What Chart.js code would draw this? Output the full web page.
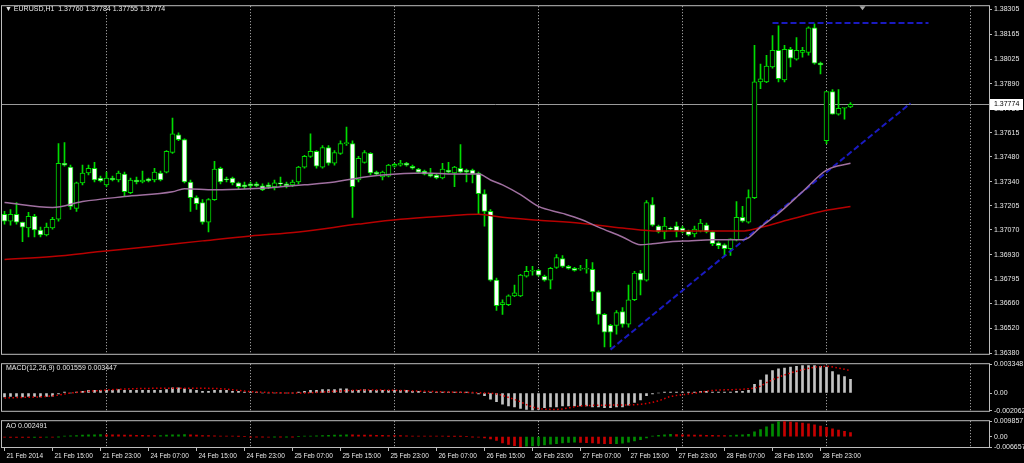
<!DOCTYPE html>
<html>
<head>
<meta charset="utf-8">
<script src="https://cdn.jsdelivr.net/npm/chart.js@4.4.1/dist/chart.umd.min.js"></script>
<style>
  body { margin: 0; background: #000; width: 1024px; height: 463px; overflow: hidden; position: relative; font-family: "Liberation Sans", Arial, sans-serif; }
  .painel { position: absolute; left: 0; width: 1024px; }
  .rotulo { position: absolute; color: #e8e8e8; font-size: 7px; line-height: 9px; white-space: pre; }
</style>
</head>
<body>
<div class="painel" style="top:0;height:360px"><canvas id="grafico-preco"></canvas></div>
<div class="painel" style="top:358px;height:59px"><canvas id="grafico-macd"></canvas></div>
<div class="painel" style="top:415px;height:48px"><canvas id="grafico-ao"></canvas></div>
<div class="rotulo" style="left:5px;top:4px">▼ EURUSD,H1  1.37760 1.37784 1.37755 1.37774</div>
<div class="rotulo" style="left:6px;top:363px">MACD(12,26,9) 0.001559 0.003447</div>
<div class="rotulo" style="left:6px;top:421px">AO 0.002491</div>
<script>
// EURUSD H1 - candles (um por hora, indice 0 = 21 Feb 07:00)
const abertura = [
  1.37158,1.37119,1.37158,1.37114,1.37081,1.37147,1.37070,1.37042,1.37081,1.37130,
  1.37444,1.37422,1.37191,1.37334,1.37389,1.37416,1.37361,1.37323,1.37361,1.37350,
  1.37383,1.37279,1.37350,1.37339,1.37356,1.37350,1.37389,1.37394,1.37504,1.37603,
  1.37576,1.37339,1.37251,1.37224,1.37114,1.37240,1.37416,1.37356,1.37361,1.37334,
  1.37323,1.37328,1.37328,1.37317,1.37323,1.37312,1.37334,1.37328,1.37323,1.37339,
  1.37422,1.37482,1.37510,1.37422,1.37532,1.37444,1.37499,1.37554,1.37554,1.37350,
  1.37449,1.37499,1.37394,1.37367,1.37372,1.37427,1.37433,1.37444,1.37427,1.37411,
  1.37400,1.37383,1.37378,1.37361,1.37405,1.37389,1.37416,1.37405,1.37405,1.37389,
  1.37273,1.37174,1.36789,1.36652,1.36652,1.36701,1.36701,1.36811,1.36839,1.36844,
  1.36811,1.36789,1.36861,1.36910,1.36866,1.36855,1.36850,1.36850,1.36850,1.36723,
  1.36597,1.36536,1.36536,1.36613,1.36542,1.36679,1.36828,1.36789,1.37213,1.37092,
  1.37059,1.37081,1.37092,1.37081,1.37064,1.37048,1.37064,1.37097,1.37059,1.36998,
  1.36987,1.36965,1.37015,1.37141,1.37114,1.37251,1.37900,1.37900,1.37983,1.38076,
  1.37911,1.38082,1.38027,1.38065,1.38065,1.38203,1.38005,1.37570,1.37845,1.37719,
  1.37752,1.37760
];
const maxima = [
  1.37174,1.37185,1.37224,1.37114,1.37169,1.37158,1.37086,1.37108,1.37141,1.37554,
  1.37559,1.37433,1.37339,1.37433,1.37433,1.37449,1.37372,1.37394,1.37372,1.37400,
  1.37394,1.37361,1.37367,1.37400,1.37361,1.37416,1.37400,1.37515,1.37697,1.37614,
  1.37581,1.37350,1.37262,1.37240,1.37246,1.37455,1.37422,1.37367,1.37367,1.37339,
  1.37339,1.37339,1.37339,1.37328,1.37334,1.37350,1.37367,1.37339,1.37350,1.37427,
  1.37488,1.37609,1.37515,1.37543,1.37543,1.37515,1.37570,1.37647,1.37570,1.37482,
  1.37515,1.37504,1.37400,1.37400,1.37438,1.37444,1.37460,1.37449,1.37433,1.37416,
  1.37405,1.37416,1.37383,1.37444,1.37449,1.37427,1.37548,1.37411,1.37411,1.37394,
  1.37295,1.37185,1.36800,1.36679,1.36707,1.36762,1.36822,1.36866,1.36866,1.36850,
  1.36817,1.36861,1.36932,1.36927,1.36872,1.36861,1.36872,1.36905,1.36888,1.36729,
  1.36602,1.36542,1.36619,1.36635,1.36762,1.36839,1.36844,1.37235,1.37251,1.37097,
  1.37141,1.37086,1.37114,1.37092,1.37070,1.37092,1.37130,1.37108,1.37064,1.37004,
  1.36993,1.37020,1.37229,1.37202,1.37295,1.38104,1.37999,1.38049,1.38159,1.38214,
  1.38104,1.38093,1.38148,1.38093,1.38208,1.38225,1.38010,1.37845,1.37856,1.37856,
  1.37757,1.37784
];
const minima = [
  1.37103,1.37097,1.37103,1.37004,1.37031,1.37031,1.37031,1.37037,1.37075,1.37119,
  1.37427,1.37185,1.37174,1.37323,1.37378,1.37339,1.37339,1.37312,1.37345,1.37339,
  1.37262,1.37273,1.37328,1.37334,1.37339,1.37339,1.37345,1.37389,1.37499,1.37570,
  1.37334,1.37174,1.37185,1.37103,1.37059,1.37235,1.37328,1.37339,1.37323,1.37301,
  1.37301,1.37306,1.37312,1.37290,1.37301,1.37295,1.37317,1.37306,1.37312,1.37328,
  1.37416,1.37477,1.37416,1.37416,1.37433,1.37433,1.37493,1.37543,1.37141,1.37339,
  1.37444,1.37378,1.37378,1.37350,1.37367,1.37422,1.37427,1.37427,1.37411,1.37389,
  1.37378,1.37367,1.37356,1.37356,1.37389,1.37312,1.37389,1.37339,1.37334,1.37158,
  1.37092,1.36784,1.36619,1.36597,1.36646,1.36696,1.36696,1.36806,1.36817,1.36811,
  1.36784,1.36740,1.36855,1.36861,1.36850,1.36839,1.36844,1.36828,1.36674,1.36542,
  1.36415,1.36415,1.36487,1.36525,1.36525,1.36674,1.36707,1.36784,1.37092,1.37053,
  1.37020,1.37070,1.37031,1.37053,1.37037,1.37031,1.37059,1.37053,1.36982,1.36965,
  1.36927,1.36927,1.37009,1.37114,1.37108,1.37246,1.37862,1.37895,1.37977,1.37900,
  1.37900,1.37983,1.38021,1.38038,1.38049,1.37999,1.37944,1.37554,1.37719,1.37713,
  1.37691,1.37755
];
const fechamento = [
  1.37119,1.37158,1.37114,1.37086,1.37147,1.37070,1.37042,1.37086,1.37130,1.37444,
  1.37433,1.37202,1.37334,1.37389,1.37416,1.37350,1.37345,1.37361,1.37350,1.37389,
  1.37284,1.37350,1.37339,1.37350,1.37345,1.37394,1.37350,1.37510,1.37609,1.37576,
  1.37339,1.37251,1.37218,1.37114,1.37240,1.37411,1.37339,1.37350,1.37334,1.37312,
  1.37312,1.37317,1.37317,1.37295,1.37312,1.37334,1.37328,1.37317,1.37339,1.37422,
  1.37482,1.37510,1.37427,1.37532,1.37444,1.37504,1.37554,1.37559,1.37312,1.37471,
  1.37504,1.37389,1.37383,1.37394,1.37433,1.37438,1.37444,1.37433,1.37416,1.37394,
  1.37383,1.37372,1.37361,1.37411,1.37394,1.37422,1.37394,1.37394,1.37383,1.37273,
  1.37174,1.36789,1.36646,1.36663,1.36701,1.36718,1.36817,1.36839,1.36844,1.36817,
  1.36789,1.36855,1.36916,1.36866,1.36855,1.36844,1.36855,1.36855,1.36723,1.36597,
  1.36498,1.36498,1.36608,1.36542,1.36679,1.36828,1.36789,1.37224,1.37097,1.37059,
  1.37092,1.37075,1.37064,1.37059,1.37042,1.37075,1.37108,1.37059,1.36993,1.36982,
  1.36965,1.37020,1.37141,1.37119,1.37251,1.37900,1.37917,1.37988,1.38076,1.37917,
  1.38082,1.38032,1.38076,1.38076,1.38203,1.38005,1.37994,1.37845,1.37719,1.37752,
  1.37757,1.37774
];

const mmRapidaIdx = [0,8,13,20,28,30,35,41,46,50,55,58,63,70,75,79,81,83,86,89,93,96,99,103,106,108,111,114,118,123,124,126,129,133,137,141];
const mmRapida = [1.37224,1.37196,1.37229,1.37257,1.37284,1.37301,1.37295,1.37301,1.37312,1.37323,1.37339,1.37356,1.37378,1.37389,1.37383,1.37383,1.37350,1.37323,1.37268,1.37202,1.37163,1.37130,1.37086,1.37031,1.36987,1.36993,1.37004,1.37009,1.37015,1.37015,1.37026,1.37086,1.37163,1.37284,1.37405,1.37444];
const mmLentaIdx = [0,8,16,24,33,41,49,59,66,73,79,83,89,96,103,109,116,123,125,131,137,141];
const mmLenta = [1.36905,1.36921,1.36949,1.36976,1.37009,1.37037,1.37059,1.37103,1.37130,1.37147,1.37158,1.37141,1.37125,1.37108,1.37081,1.37064,1.37064,1.37064,1.37075,1.37130,1.37180,1.37202];

// objetos desenhados
const tendenciaIdx = [101, 151];
const tendenciaPreco = [1.36400, 1.37780];
const resistenciaIdx = [128, 154];
const resistenciaPreco = [1.38230, 1.38230];
const precoAtual = 1.37774;
const marcaDeslocamento = 143;

// MACD(12,26,9)
const macd = [
  -0.00045,-0.0004,-0.0004,-0.00045,-0.0004,-0.0004,-0.00045,-0.0004,-0.00035,-0.0001,
  0.0001,0.0,0.0001,0.0002,0.0003,0.0003,0.0003,0.0003,0.0003,0.0004,
  0.0003,0.0003,0.0003,0.0003,0.0003,0.0003,0.0003,0.0004,0.0006,0.0006,
  0.0005,0.0004,0.0003,0.0002,0.0002,0.0003,0.0003,0.0003,0.0002,0.0002,
  0.0001,0.0001,0.0001,0.0,0.0,0.0,0.0,0.0,0.0,0.0001,
  0.0002,0.0003,0.0003,0.0004,0.0004,0.0004,0.0005,0.0005,0.0003,0.0003,
  0.0004,0.0003,0.0003,0.0003,0.0003,0.0003,0.0003,0.0003,0.0002,0.0002,
  0.0001,0.0001,0.0001,0.0001,0.0001,0.0001,0.0001,0.0001,0.0,-0.0001,
  -0.0003,-0.0007,-0.0010,-0.0013,-0.0015,-0.0016,-0.0018,-0.0019,-0.0020,-0.0019,
  -0.0017,-0.0016,-0.0016,-0.0015,-0.0015,-0.0015,-0.0015,-0.0015,-0.0016,-0.0016,
  -0.0017,-0.0017,-0.0016,-0.0016,-0.0014,-0.0011,-0.0008,-0.0003,-0.0001,0.0,
  0.0001,0.0001,0.0001,0.0001,0.0001,0.0001,0.0002,0.0002,0.0001,0.0001,
  0.0001,0.0001,0.0002,0.0002,0.0003,0.0010,0.0015,0.0021,0.0026,0.0028,
  0.0029,0.0030,0.0031,0.0032,0.0032,0.0032,0.0031,0.0030,0.0025,0.0021,
  0.0019,0.0016
];
const sinalIdx = [0,8,11,16,21,30,36,41,49,55,60,66,70,75,80,82,85,89,92,96,101,106,109,111,113,116,118,124,126,127,130,133,135,137,139,141];
const sinal = [-0.00057,-0.00033,0.0,0.0003,0.00049,0.00056,0.0005,0.00017,0.0,0.0002,0.00035,0.0003,0.0002,0.0001,0.0,-0.0001,-0.00075,-0.0018,-0.0019,-0.0015,-0.0014,-0.0013,-0.0009,-0.0004,-0.0002,0.0001,0.0003,0.0005,0.0008,0.0012,0.0021,0.0027,0.0030,0.0031,0.0029,0.0026];

// Awesome Oscillator
const ao = [
  -0.0004,-0.0005,-0.0005,-0.0006,-0.0006,-0.0005,-0.0005,-0.0004,-0.0004,-0.0002,
  0.0002,0.0005,0.0007,0.0009,0.0011,0.0012,0.0013,0.0012,0.0011,0.0011,
  0.0010,0.0009,0.0008,0.0008,0.0007,0.0006,0.0007,0.0009,0.0011,0.0012,
  0.0013,0.0011,0.0009,0.0007,0.0006,0.0005,0.0004,0.0003,0.0002,0.0001,
  0.0000,-0.0001,-0.0002,-0.0002,-0.0003,-0.0002,-0.0002,-0.0001,-0.0001,0.0000,
  0.0002,0.0004,0.0005,0.0007,0.0008,0.0009,0.0010,0.0011,0.0011,0.0010,
  0.0010,0.0009,0.0008,0.0008,0.0007,0.0006,0.0006,0.0005,0.0004,0.0004,
  0.0003,0.0003,0.0002,0.0002,0.0001,0.0001,0.0001,0.0000,-0.0001,-0.0003,
  -0.0008,-0.0015,-0.0025,-0.0040,-0.0050,-0.0058,-0.0064,-0.0062,-0.0060,-0.0057,
  -0.0053,-0.0049,-0.0045,-0.0041,-0.0038,-0.0036,-0.0037,-0.0039,-0.0041,-0.0043,
  -0.0045,-0.0046,-0.0045,-0.0042,-0.0036,-0.0028,-0.0019,-0.0008,0.0002,0.0008,
  0.0012,0.0014,0.0013,0.0012,0.0011,0.0010,0.0009,0.0008,0.0008,0.0007,
  0.0006,0.0007,0.0010,0.0012,0.0015,0.0030,0.0045,0.0062,0.0080,0.0098,
  0.0097,0.0094,0.0090,0.0086,0.0081,0.0075,0.0068,0.0060,0.0050,0.0041,
  0.0033,0.0025
];

// eixos
const ticksPreco = [1.38305,1.38165,1.38025,1.37890,1.37750,1.37615,1.37480,1.37340,1.37205,1.37070,1.36930,1.36795,1.36660,1.36520,1.36380];
const ticksMacd = [-0.002062, 0, 0.003348];
const ticksAo = [-0.006657, 0, 0.009857];
const posRotulos = [0,8,16,24,32,40,48,56,64,72,80,88,96,104,112,120,128,136];
const rotulosX = ['21 Feb 2014','21 Feb 15:00','21 Feb 23:00','24 Feb 07:00','24 Feb 15:00','24 Feb 23:00','25 Feb 07:00','25 Feb 15:00','25 Feb 23:00','26 Feb 07:00','26 Feb 15:00','26 Feb 23:00','27 Feb 07:00','27 Feb 15:00','27 Feb 23:00','28 Feb 07:00','28 Feb 15:00','28 Feb 23:00'];
const separadoresDia = [17, 41, 65, 89, 113, 137, 161];

const xMin = -0.416667, xMax = 164.083333;
const corTexto = '#e8e8e8';
const corMoldura = '#bdbdbd';
const verde = '#00dd00';

Chart.defaults.font.family = '"Liberation Sans", Arial, sans-serif';
Chart.defaults.font.size = 7;
Chart.defaults.animation = false;

const molduraPlugin = {
  id: 'moldura',
  beforeDatasetsDraw(chart) {
    const { ctx, chartArea: a, scales: { x } } = chart;
    ctx.save();
    ctx.strokeStyle = corMoldura;
    ctx.lineWidth = 1;
    ctx.setLineDash([1, 2]);
    separadoresDia.forEach(v => {
      const px = Math.floor(x.getPixelForValue(v)) + 0.5;
      if (px < a.right) {
        ctx.beginPath(); ctx.moveTo(px, a.top); ctx.lineTo(px, a.bottom); ctx.stroke();
      }
    });
    ctx.setLineDash([]);
    ctx.strokeRect(a.left - 0.5, a.top - 0.5, a.right - a.left + 1, a.bottom - a.top + 1);
    ctx.restore();
  }
};

const precoPlugin = {
  id: 'precoAtual',
  beforeDatasetsDraw(chart) {
    const { ctx, chartArea: a, scales: { y } } = chart;
    const py = Math.round(y.getPixelForValue(precoAtual)) + 0.5;
    ctx.save();
    ctx.strokeStyle = '#9a9a9a';
    ctx.lineWidth = 1;
    ctx.beginPath(); ctx.moveTo(a.left, py); ctx.lineTo(a.right, py); ctx.stroke();
    ctx.restore();
  },
  afterDraw(chart) {
    const { ctx, chartArea: a, scales: { x, y } } = chart;
    const py = Math.round(y.getPixelForValue(precoAtual));
    ctx.save();
    ctx.fillStyle = '#ffffff';
    ctx.fillRect(a.right + 1, py - 5, 33, 11);
    ctx.fillStyle = '#000';
    ctx.font = '7px "Liberation Sans", Arial, sans-serif';
    ctx.textBaseline = 'middle';
    ctx.fillText(precoAtual.toFixed(5), a.right + 5, py + 0.5);
    // marca de deslocamento do grafico
    const sx = x.getPixelForValue(marcaDeslocamento);
    ctx.fillStyle = '#a8a8a8';
    ctx.beginPath();
    ctx.moveTo(sx - 3, a.top); ctx.lineTo(sx + 3, a.top); ctx.lineTo(sx, a.top + 4);
    ctx.fill();
    ctx.restore();
  }
};

function eixoY(ticks, fmt) {
  return {
    position: 'right',
    afterBuildTicks: s => { s.ticks = ticks.map(v => ({ value: v })); },
    afterFit: s => { s.width = 35; },
    ticks: { color: corTexto, padding: 2, autoSkip: false, callback: fmt },
    grid: { drawOnChartArea: false, color: corMoldura, tickLength: 3 },
    border: { color: corMoldura }
  };
}

function eixoXOculto() {
  return { type: 'linear', min: xMin, max: xMax, offset: false, display: false };
}

const opcoesBase = {
  responsive: true,
  maintainAspectRatio: false,
  plugins: { legend: { display: false }, tooltip: { enabled: false } }
};

// GRÁFICO DE PREÇO (candles)
new Chart(document.getElementById('grafico-preco'), {
  type: 'bar',
  data: {
    datasets: [
      {
        type: 'line', label: 'MA curta',
        data: mmRapidaIdx.map((v, k) => ({ x: v, y: mmRapida[k] })),
        borderColor: '#a070a0', borderWidth: 1.5, pointRadius: 0,
        cubicInterpolationMode: 'monotone', order: 0
      },
      {
        type: 'line', label: 'MA longa',
        data: mmLentaIdx.map((v, k) => ({ x: v, y: mmLenta[k] })),
        borderColor: '#b80000', borderWidth: 1.5, pointRadius: 0,
        cubicInterpolationMode: 'monotone', order: 0
      },
      {
        type: 'line', label: 'Tendência',
        data: tendenciaIdx.map((v, k) => ({ x: v, y: tendenciaPreco[k] })),
        borderColor: '#1a1ac0', borderWidth: 2, borderDash: [6, 3], pointRadius: 0, order: 0
      },
      {
        type: 'line', label: 'Resistência',
        data: resistenciaIdx.map((v, k) => ({ x: v, y: resistenciaPreco[k] })),
        borderColor: '#1a1ac0', borderWidth: 2, borderDash: [6, 3], pointRadius: 0, order: 0
      },
      {
        label: 'Sombras',
        data: minima.map((v, i) => ({ x: i, y: [v, maxima[i]] })),
        backgroundColor: verde, barThickness: 1, grouped: false, order: 3
      },
      {
        label: 'Corpos',
        data: abertura.map((v, i) => ({ x: i, y: [v, fechamento[i]] })),
        backgroundColor: fechamento.map((c, i) => c > abertura[i] ? '#000000' : '#ffffff'),
        borderColor: verde, borderWidth: 1, borderSkipped: false,
        barThickness: 5, grouped: false, order: 2
      }
    ]
  },
  options: {
    ...opcoesBase,
    layout: { padding: { top: 3, bottom: 3, left: 2, right: 0 } },
    scales: {
      x: eixoXOculto(),
      y: { ...eixoY(ticksPreco, v => v.toFixed(5)), min: 1.363765, max: 1.383235 }
    }
  },
  plugins: [molduraPlugin, precoPlugin]
});

// GRÁFICO MACD
new Chart(document.getElementById('grafico-macd'), {
  type: 'bar',
  data: {
    datasets: [
      {
        type: 'line', label: 'Sinal',
        data: sinalIdx.map((v, k) => ({ x: v, y: sinal[k] })),
        borderColor: '#e00000', borderWidth: 1.5, borderDash: [1.5, 2.5], pointRadius: 0,
        cubicInterpolationMode: 'monotone', order: 0
      },
      {
        label: 'MACD',
        data: macd.map((v, i) => ({ x: i, y: v })),
        backgroundColor: '#c4c4c4', barThickness: 2, grouped: false, order: 1
      }
    ]
  },
  options: {
    ...opcoesBase,
    layout: { padding: { top: 5, bottom: 3, left: 2, right: 0 } },
    scales: {
      x: eixoXOculto(),
      y: { ...eixoY(ticksMacd, v => v === 0 ? '0.00' : v.toFixed(6)), min: -0.002062, max: 0.003348 }
    }
  },
  plugins: [molduraPlugin]
});

// GRÁFICO AO
new Chart(document.getElementById('grafico-ao'), {
  type: 'bar',
  data: {
    datasets: [{
      label: 'AO',
      data: ao.map((v, i) => ({ x: i, y: v })),
      backgroundColor: ao.map((v, i) => i > 0 && v > ao[i - 1] ? '#008c00' : '#c80000'),
      barThickness: 2, grouped: false
    }]
  },
  options: {
    ...opcoesBase,
    layout: { padding: { top: 4, bottom: 0, left: 2, right: 0 } },
    scales: {
      x: {
        type: 'linear', min: xMin, max: xMax, offset: false,
        afterBuildTicks: s => { s.ticks = posRotulos.map(v => ({ value: v })); },
        afterFit: s => { s.height = 16; },
        ticks: {
          color: corTexto, font: { size: 6.5 }, align: 'start', maxRotation: 0, autoSkip: false,
          padding: 1, labelOffset: 2,
          callback: v => rotulosX[posRotulos.indexOf(v)]
        },
        grid: { drawOnChartArea: false, offset: false, color: corMoldura, tickLength: 4 },
        border: { color: corMoldura }
      },
      y: { ...eixoY(ticksAo, v => v === 0 ? '0.00' : v.toFixed(6)), min: -0.006657, max: 0.009857 }
    }
  },
  plugins: [molduraPlugin]
});
</script>
</body>
</html>
